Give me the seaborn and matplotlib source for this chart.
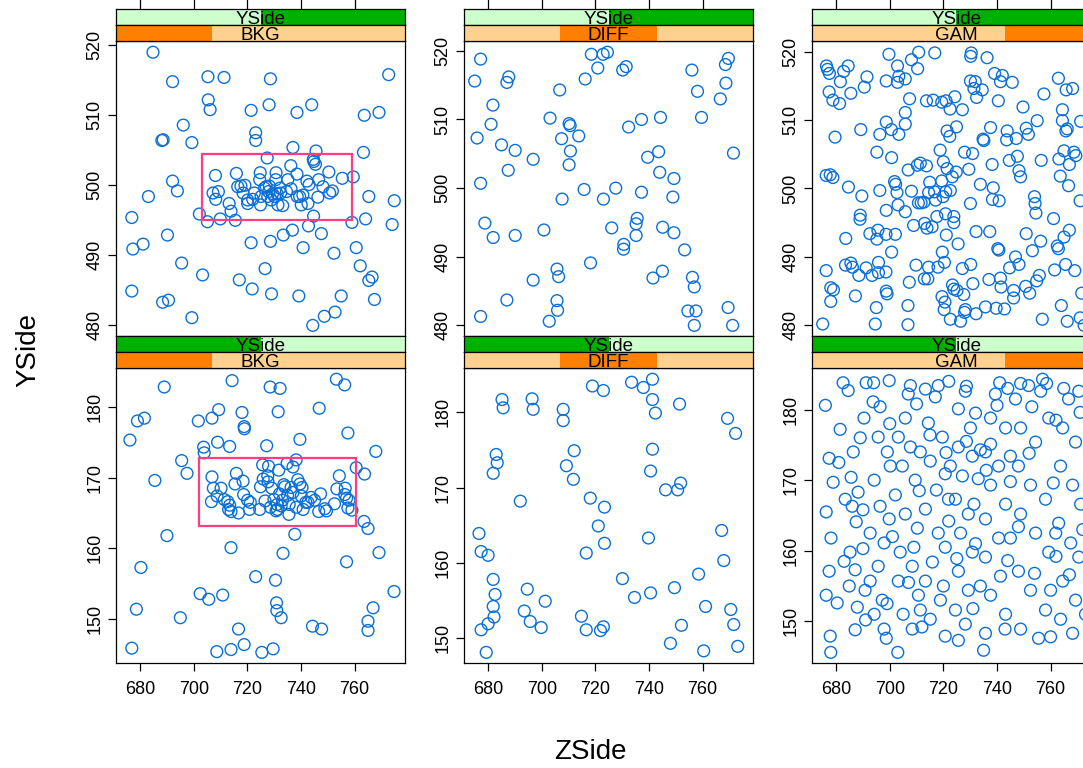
import numpy as np
import pandas as pd
import matplotlib.pyplot as plt
from matplotlib.patches import Rectangle
from matplotlib.ticker import MultipleLocator
import seaborn as sns

sns.set_theme(style='white')
plt.rcParams['font.family'] = ['Liberation Sans', 'DejaVu Sans']
plt.rcParams['text.color'] = 'black'

classes = ['BKG', 'DIFF', 'GAM']
yside_levels = ['low', 'high']

# ---- YSide = high (top row) ----
bkg_hi_x = [684.8, 692.1, 705.3, 711.3, 728.6, 772.7, 705.4, 706.1, 721.4, 728.1, 738.5, 744.0, 763.6, 769.1, 696.1,
            688.1, 688.6, 699.3, 723.1, 723.1, 737.0, 745.6, 763.3, 727.4, 692.1, 693.9, 683.1, 676.9, 690.2, 681.1,
            677.3, 702.1, 705.1, 709.9, 715.5, 713.9, 713.2, 708.1, 707.2, 708.2, 709.2, 715.9, 717.6, 719.1, 720.1,
            720.1, 724.8, 724.6, 725.1, 724.9, 727.0, 727.9, 728.9, 730.1, 730.7, 730.6, 731.4, 733.2, 732.4, 734.6,
            735.1, 736.2, 738.5, 739.5, 740.1, 740.7, 742.2, 743.0, 742.6, 744.8, 745.4, 744.6, 746.6, 746.3, 748.2,
            750.4, 750.7, 751.7, 755.4, 759.5, 744.7, 759.0, 764.1, 765.3, 774.8, 774.0, 736.8, 742.8, 747.6, 733.4,
            728.6, 721.4, 740.8, 752.3, 760.6, 762.1, 766.5, 765.3, 695.5, 703.3, 717.0, 721.8, 726.6, 729.0, 739.2,
            755.0, 767.4, 676.9, 688.4, 690.6, 699.3, 744.4, 748.7, 752.7, 726.4, 728.2, 729.4, 731.1, 727.6, 732.2,
            716.4, 718.4, 722.6, 722.0, 736.3, 738.6]
bkg_hi_y = [519.0, 514.8, 515.5, 515.4, 515.2, 515.8, 512.2, 510.8, 510.7, 511.5, 510.4, 511.5, 510.0, 510.4, 508.6,
            506.4, 506.5, 506.1, 507.5, 506.4, 505.4, 504.9, 504.7, 503.9, 500.6, 499.2, 498.4, 495.4, 492.9, 491.6,
            490.9, 495.9, 494.8, 495.2, 495.0, 496.3, 497.4, 501.4, 498.9, 498.0, 499.1, 501.7, 499.9, 500.0, 497.9,
            497.4, 501.8, 500.8, 498.4, 497.2, 499.8, 499.1, 497.9, 498.4, 501.8, 500.8, 497.2, 497.1, 498.9, 499.1,
            500.8, 502.8, 501.6, 498.4, 497.2, 498.6, 500.6, 500.1, 497.4, 503.4, 503.0, 503.7, 500.8, 498.3, 499.8,
            501.9, 498.9, 499.2, 501.0, 501.2, 495.6, 494.7, 495.2, 498.4, 497.8, 494.4, 493.6, 494.2, 493.1, 492.9,
            492.0, 491.8, 491.1, 490.3, 491.1, 488.5, 486.9, 486.4, 488.9, 487.2, 486.5, 485.2, 488.1, 484.5, 484.2,
            484.2, 483.7, 484.9, 483.3, 483.6, 481.1, 480.0, 481.3, 481.9, 499.6, 499.9, 498.8, 498.8, 498.4, 499.6,
            499.8, 498.9, 498.9, 498.0, 499.5, 498.4]

diff_hi_x = [677.2, 675.0, 687.7, 687.0, 681.8, 681.1, 675.9, 685.0, 690.1, 696.8, 687.5, 677.2, 706.7, 703.1, 710.2,
             710.6, 713.8, 707.4, 710.7, 710.2, 716.2, 718.5, 722.9, 724.5, 720.9, 730.2, 731.5, 737.2, 732.4, 744.3,
             756.0, 758.1, 759.6, 768.5, 769.6, 768.7, 766.6, 771.5, 743.6, 739.5, 744.0, 749.3, 748.9, 737.2, 727.6,
             723.0, 715.8, 707.6, 678.8, 681.9, 690.1, 700.8, 726.1, 735.6, 735.2, 735.2, 730.6, 730.5, 745.1, 749.3,
             753.3, 718.2, 705.7, 706.3, 696.8, 741.5, 745.0, 756.2, 756.9, 687.0, 705.7, 705.9, 702.8, 677.2, 754.5,
             757.5, 769.5, 756.9, 771.2]
diff_hi_y = [518.8, 515.6, 516.2, 515.4, 512.1, 509.3, 507.3, 506.3, 505.5, 504.2, 502.6, 500.7, 514.3, 510.2, 509.4,
             509.1, 507.6, 507.2, 505.4, 503.4, 515.9, 519.5, 519.5, 519.8, 517.5, 517.2, 517.7, 510.0, 508.9, 510.3,
             517.2, 514.1, 510.3, 518.0, 518.9, 515.3, 513.0, 505.1, 505.3, 504.5, 502.3, 501.4, 498.7, 499.4, 500.0,
             498.4, 499.8, 498.4, 494.9, 492.8, 493.1, 493.9, 494.2, 495.6, 494.8, 493.1, 491.8, 491.1, 494.3, 493.5,
             491.0, 489.1, 488.2, 487.1, 486.6, 486.9, 487.9, 487.0, 485.6, 483.7, 483.6, 482.2, 480.6, 481.3, 482.1,
             482.1, 482.6, 480.0, 480.0]

gam_hi_x = [699.7, 710.8, 716.8, 708.1, 730.4, 730.2, 736.3, 676.4, 676.8, 684.5, 682.8, 702.9, 710.4, 677.5, 681.6,
            691.5, 690.5, 698.7, 703.4, 702.9, 705.8, 730.1, 731.9, 739.1, 742.0, 741.3, 745.7, 762.9, 677.4, 678.8,
            681.3, 685.5, 731.4, 734.5, 732.4, 740.5, 757.5, 765.8, 768.2, 707.4, 713.7, 716.2, 719.4, 721.0, 724.3,
            722.5, 727.1, 749.7, 764.4, 705.8, 698.7, 705.8, 689.2, 700.6, 703.4, 696.3, 679.6, 721.4, 722.4, 724.9,
            737.6, 734.8, 735.1, 743.8, 743.6, 747.2, 750.9, 751.7, 755.0, 764.4, 766.2, 765.7, 771.2, 695.2, 700.7,
            718.8, 727.9, 730.9, 720.0, 710.3, 711.4, 713.7, 706.9, 721.4, 724.8, 723.3, 729.5, 738.2, 744.6, 747.6,
            748.2, 748.8, 756.5, 763.1, 765.0, 768.7, 769.4, 767.0, 676.3, 677.8, 678.8, 763.6, 684.6, 689.6, 696.3,
            701.8, 702.2, 702.7, 708.1, 714.9, 714.5, 716.7, 719.4, 720.9, 722.6, 719.9, 717.1, 710.7, 711.7, 712.7,
            703.1, 705.8, 698.7, 730.1, 733.8, 738.6, 738.3, 740.8, 754.0, 754.2, 754.5, 766.7, 771.0, 689.0, 688.9,
            708.9, 713.0, 713.9, 715.8, 717.6, 720.8, 723.9, 723.9, 721.1, 725.5, 732.2, 737.3, 683.6, 692.6, 695.6,
            695.2, 698.6, 702.1, 750.9, 756.3, 761.1, 765.0, 767.0, 762.5, 762.9, 740.3, 740.7, 753.2, 700.7, 719.6,
            720.4, 718.0, 714.5, 709.8, 676.3, 683.5, 685.5, 686.1, 688.5, 691.2, 693.4, 695.8, 695.8, 698.6, 727.1,
            730.2, 731.0, 744.7, 746.9, 748.2, 741.3, 741.5, 737.0, 746.2, 750.7, 752.2, 754.8, 755.8, 761.5, 765.6,
            769.0, 707.3, 712.9, 714.2, 678.0, 679.0, 678.0, 687.2, 698.7, 699.0, 695.0, 706.8, 719.5, 720.6, 720.3,
            723.4, 723.9, 725.1, 727.6, 722.6, 726.4, 727.9, 728.2, 732.2, 735.7, 739.7, 742.8, 746.2, 675.0, 694.6,
            706.8, 756.9, 764.0, 766.2, 771.6, 771.0, 772.5]
gam_hi_y = [519.6, 519.9, 519.8, 518.8, 519.8, 519.3, 519.1, 517.9, 517.4, 517.9, 517.1, 517.9, 517.5, 516.8, 515.6,
            516.3, 514.8, 515.7, 516.4, 515.5, 516.0, 515.7, 515.6, 516.8, 516.5, 515.6, 515.5, 516.1, 514.1, 512.9,
            512.4, 513.9, 514.6, 514.4, 513.3, 512.8, 513.8, 514.4, 514.6, 513.1, 512.8, 512.9, 512.6, 512.8, 513.4,
            511.6, 511.5, 511.9, 511.5, 511.1, 509.7, 509.4, 508.6, 508.6, 507.9, 507.9, 507.5, 508.4, 507.6, 509.0,
            508.9, 507.2, 507.0, 508.4, 507.1, 507.3, 508.8, 507.9, 509.9, 509.9, 508.7, 508.4, 509.8, 505.3, 504.5,
            505.6, 505.3, 505.1, 503.9, 503.4, 503.7, 503.3, 502.7, 502.9, 502.4, 501.7, 502.8, 503.5, 504.1, 504.7,
            502.6, 501.7, 504.1, 504.3, 505.5, 505.3, 504.8, 503.5, 501.9, 502.0, 501.6, 501.8, 500.2, 498.9, 499.7,
            501.0, 500.6, 499.4, 499.6, 500.9, 499.4, 499.5, 501.1, 499.5, 499.7, 498.8, 498.3, 497.9, 497.9, 498.0,
            497.6, 496.6, 496.8, 497.8, 500.6, 500.1, 498.4, 498.2, 498.8, 497.8, 496.4, 500.4, 498.2, 496.1, 495.5,
            494.6, 494.9, 494.2, 494.4, 495.9, 496.3, 495.9, 495.0, 493.2, 491.9, 493.7, 493.7, 492.7, 493.4, 493.9,
            492.6, 493.3, 493.3, 493.4, 492.3, 495.6, 492.9, 493.9, 491.6, 491.2, 491.2, 491.0, 490.9, 490.7, 490.7,
            489.2, 488.5, 488.5, 488.8, 488.0, 488.8, 489.1, 488.5, 487.3, 488.4, 487.3, 489.2, 487.7, 487.8, 488.3,
            488.9, 486.1, 488.4, 490.0, 488.9, 486.9, 485.6, 486.7, 485.1, 485.7, 484.7, 486.5, 487.3, 488.1, 488.9,
            488.0, 486.3, 486.8, 486.8, 485.5, 485.2, 483.5, 484.3, 485.0, 484.6, 482.6, 482.9, 484.2, 483.4, 482.3,
            485.9, 485.3, 485.1, 484.5, 480.9, 480.6, 481.9, 482.3, 481.7, 482.7, 482.5, 482.4, 484.0, 480.2, 480.2,
            480.1, 480.9, 482.9, 480.6, 484.7, 481.1, 480.0]

# ---- YSide = low (bottom row) ----
bkg_lo_x = [689.0, 714.3, 728.5, 732.2, 753.2, 756.3, 679.0, 681.6, 701.7, 706.8, 709.3, 718.0, 731.5, 746.8, 718.8,
            718.9, 676.2, 739.6, 757.5, 703.7, 703.9, 708.9, 713.4, 727.2, 767.9, 695.5, 697.5, 685.5, 760.6, 763.7,
            763.5, 765.0, 737.7, 690.0, 713.9, 733.3, 757.0, 769.1, 680.3, 723.1, 730.5, 702.4, 705.6, 710.8, 678.6,
            695.0, 716.7, 730.9, 731.0, 732.6, 744.3, 747.7, 766.9, 765.0, 765.0, 774.7, 676.9, 708.6, 713.9, 718.8,
            725.4, 729.6,
            725.7, 727.9, 731.7, 734.8, 738.2, 737.0, 706.8, 715.9, 718.4, 715.4, 707.3, 710.2, 725.9, 727.6, 727.7,
            724.9, 729.1, 733.6, 734.0, 738.8, 739.6, 740.4, 754.3, 753.4, 756.5, 756.3, 757.0, 706.6, 708.7, 711.4,
            712.7, 713.4, 713.0, 713.9, 716.7, 718.6, 720.1, 720.8, 721.1, 724.6, 726.6, 728.6, 729.9, 731.2, 732.0,
            733.1, 735.0, 735.6, 735.5, 737.0, 738.2, 740.1, 740.8, 741.8, 743.8, 745.1, 747.3, 746.6, 748.9, 749.5,
            752.5, 757.5, 759.0, 757.9, 731.1, 730.7, 732.6, 736.3, 742.6]
bkg_lo_y = [182.8, 183.7, 182.8, 182.6, 183.9, 183.1, 178.0, 178.4, 178.0, 178.4, 179.6, 179.2, 179.3, 179.8, 177.2,
            176.9, 175.3, 175.4, 176.3, 174.3, 173.5, 175.0, 174.4, 174.5, 173.7, 172.4, 170.6, 169.6, 171.4, 170.5,
            163.8, 162.8, 162.0, 161.8, 160.1, 159.3, 158.1, 159.4, 157.3, 156.0, 155.5, 153.6, 152.8, 153.4, 151.4,
            150.2, 148.6, 152.3, 151.2, 150.2, 149.0, 148.6, 151.6, 149.7, 148.4, 153.9, 145.9, 145.4, 145.7, 146.4,
            145.3, 145.8,
            171.8, 171.6, 171.05, 172.0, 172.5, 171.5, 170.1, 170.6, 169.5, 169.1, 168.5, 168.5, 169.8, 170.25, 169.4,
            168.7, 168.5, 169.0, 168.7, 169.7, 169.1, 168.6, 170.25, 168.4, 168.5, 167.6, 167.1, 166.6, 167.4, 166.9,
            166.6, 166.1, 165.5, 165.2, 165.0, 167.6, 166.8, 165.5, 166.5, 165.5, 166.7, 165.8, 166.9, 165.5, 167.7,
            166.8, 167.5, 166.2, 164.8, 167.9, 165.8, 167.4, 165.5, 166.5, 167.2, 166.8, 167.7, 165.2, 165.6, 165.3,
            166.3, 165.7, 165.4, 166.8, 166.2, 165.3, 166.0, 168.6, 166.5]

diff_lo_x = [685.2, 685.6, 683.0, 683.4, 681.9, 676.6, 677.4, 680.0, 681.9, 682.6, 681.9, 682.2, 680.0, 677.4, 679.3,
             693.5, 694.6, 695.7, 699.8, 701.3, 692.0, 696.4, 696.8, 708.0, 708.0, 718.9, 723.0, 712.1, 709.2, 711.8,
             718.1, 723.4, 721.1, 716.6, 714.8, 716.6, 721.9, 723.4, 730.1, 734.6, 723.0, 733.5, 737.9, 741.3, 741.3,
             742.4, 751.4, 741.3, 740.6, 739.8, 740.6, 746.2, 748.0, 750.7, 751.8, 749.5, 752.1, 758.5, 760.4, 761.1,
             767.9, 770.5, 771.6, 773.1, 767.1, 769.3, 772.3]
diff_lo_y = [181.7, 180.6, 174.4, 173.3, 171.9, 163.9, 161.5, 161.0, 157.8, 155.8, 154.2, 152.8, 151.9, 151.1, 148.1,
             153.6, 156.5, 152.2, 151.4, 154.9, 168.2, 181.8, 180.4, 180.4, 178.9, 183.5, 182.9, 174.9, 172.9, 171.1,
             168.6, 167.4, 164.9, 161.3, 152.9, 151.1, 151.0, 162.6, 157.9, 155.4, 151.5, 184.0, 183.3, 184.4, 181.7,
             179.9, 181.1, 175.1, 172.2, 163.3, 156.0, 169.7, 149.3, 169.7, 170.6, 156.7, 151.7, 158.5, 148.3, 154.2,
             160.3, 153.8, 151.8, 148.9, 164.3, 179.2, 177.2]

gam_lo_x = [682.6, 684.5, 691.2, 699.8, 707.7, 718.1, 728.6, 741.0, 748.8, 751.8, 758.5, 764.9,
            677.4, 678.9, 676.3, 678.1, 677.4, 676.3, 680.4, 677.8,
            686.4, 685.6, 688.2, 686.0, 687.5, 685.2, 687.1, 684.9, 687.9, 687.1,
            693.8, 696.4, 695.7, 699.1, 694.2, 696.4, 692.7, 697.9, 695.7, 692.7, 697.2, 694.2, 697.9, 698.7,
            706.9, 705.8, 703.2, 707.7, 704.7, 709.5, 702.1, 705.8, 710.3, 703.9, 708.4, 703.2, 710.7, 705.0, 708.4,
            713.3, 717.0, 714.4, 719.6, 715.1, 720.7, 717.4, 713.3, 718.1, 720.7, 715.9, 713.3, 718.9, 715.1, 720.7,
            728.2, 725.6, 730.1, 725.6, 730.8, 727.1, 724.5, 729.3, 726.4, 730.8, 725.6, 729.3, 724.5, 728.2, 725.6,
            728.6, 733.8, 737.6,
            739.4, 737.6, 743.2, 735.7, 740.6, 737.6, 743.2, 735.7, 740.6, 735.7, 741.3, 737.6, 743.2, 735.7,
            746.9, 756.3, 748.8, 754.4, 759.3, 748.0, 752.5, 758.1, 748.8, 754.4, 759.3, 748.0, 752.5, 758.1, 748.8,
            755.5,
            766.7, 770.5, 764.5, 769.3, 763.7, 768.2, 771.2, 763.0, 767.5, 770.5, 764.5, 769.3, 763.7, 768.2,
            681.5, 690.4, 700.2, 711.4, 721.9, 731.4, 745.0, 761.9, 690.8, 711.4, 733.8, 760.0, 683.4, 699.8, 722.6,
            745.0,
            681.0, 690.0, 683.0, 691.0, 700.0, 701.0, 699.0, 710.0, 711.0, 709.0, 712.0, 722.0, 721.0, 722.0, 720.0,
            732.0, 733.0, 732.0, 731.0, 744.0, 745.0, 744.0, 743.0, 753.0, 752.0, 754.0, 762.0, 761.0, 762.0, 760.0,
            771.0, 772.0, 773.0, 676.0, 678.0, 703.0, 735.0, 757.0, 689.0, 715.0, 736.0, 725.0, 707.0, 690.0, 748.0,
            767.0, 740.0, 694.0]
gam_lo_y = [183.8, 182.7, 183.8, 184.1, 183.4, 183.4, 183.3, 183.8, 183.7, 183.4, 183.7, 183.0,
            173.1, 169.7, 165.5, 161.8, 157.1, 153.7, 152.6, 147.9,
            174.0, 170.4, 168.3, 166.3, 164.1, 159.8, 157.3, 155.0, 152.0, 148.8,
            181.1, 180.4, 176.1, 174.0, 170.0, 166.3, 162.5, 161.1, 157.8, 155.7, 153.0, 151.0, 148.9, 147.6,
            182.2, 178.8, 176.1, 174.7, 172.0, 170.0, 167.9, 165.2, 163.2, 159.8, 157.8, 155.7, 153.7, 151.0, 148.9,
            182.9, 181.8, 178.1, 176.1, 172.7, 170.9, 168.6, 165.9, 162.5, 160.5, 158.4, 155.7, 153.0, 150.3, 147.9,
            182.6, 180.1, 177.4, 174.7, 173.4, 170.6, 167.3, 165.2, 162.5, 159.8, 157.1, 154.4, 151.6, 149.6, 147.3,
            175.5, 174.3, 175.1,
            182.2, 178.8, 177.4, 174.0, 172.0, 169.3, 166.6, 164.5, 161.8, 159.1, 156.4, 153.7, 151.0, 148.3,
            181.5, 182.6, 177.4, 175.4, 178.8, 172.0, 169.3, 167.3, 165.2, 162.5, 159.8, 157.1, 154.4, 151.6, 148.9,
            147.6,
            181.5, 182.6, 177.4, 175.4, 172.0, 169.3, 166.6, 163.9, 161.1, 159.1, 155.7, 153.0, 150.3, 148.3,
            177.2, 178.8, 172.0, 174.0, 167.3, 166.6, 161.8, 162.5, 154.4, 151.6, 155.0, 154.4, 167.3, 164.5, 172.0,
            173.4,
            172.5, 165.8, 158.5, 150.2, 178.0, 162.0, 152.5, 180.8, 168.5, 160.5, 149.2, 184.0, 173.9, 164.2, 155.0,
            179.5, 170.2, 161.0, 151.8, 183.0, 169.8, 158.6, 148.9, 180.4, 173.8, 156.8, 178.5, 169.6, 159.2, 147.8,
            179.6, 163.0, 151.0, 180.6, 145.6, 145.6, 145.9, 184.3, 176.0, 176.4, 171.4, 158.9, 155.5, 160.3, 163.4,
            156.6, 180.6, 183.8]

# highlighted region drawn on the BKG panels: x0, x1, y0, y1
box_hi = (703.0, 759.0, 495.0, 504.5)
box_lo = (702.0, 760.5, 163.1, 172.8)

panels = {
    ('high', 'BKG'): (bkg_hi_x, bkg_hi_y), ('high', 'DIFF'): (diff_hi_x, diff_hi_y),
    ('high', 'GAM'): (gam_hi_x, gam_hi_y), ('low', 'BKG'): (bkg_lo_x, bkg_lo_y),
    ('low', 'DIFF'): (diff_lo_x, diff_lo_y), ('low', 'GAM'): (gam_lo_x, gam_lo_y),
}
frames = []
for (ys, cl), (xs, yv) in panels.items():
    frames.append(pd.DataFrame({'ZSide': xs, 'Y': yv, 'YSide': ys, 'cls': cl}))
df = pd.concat(frames, ignore_index=True)

BLUE = '#0a6fd6'
GREEN_L, GREEN_D = '#ccffcc', '#00b000'
ORANGE_L, ORANGE_D = '#ffd18f', '#ff8000'
PINK = '#ff3d7f'

W, H = 1083, 768
fig = plt.figure(figsize=(W / 100, H / 100), dpi=100)


def add_ax(left, top, w, h):
    return fig.add_axes([left / W, 1 - (top + h) / H, w / W, h / H])


def pad_lim(v):
    lo, hi = min(v), max(v)
    d = (hi - lo) * 0.04
    return lo - d, hi + d


xlim = pad_lim(df['ZSide'])
col_left = [116, 464, 812]
panel_w, panel_h, strip_h = 289, 295, 16
row_top = {'high': 41.3, 'low': 368.3}


def strip(ax, label, light, dark, i, n):
    ax.set_facecolor(light)
    ax.add_patch(Rectangle((i / n, 0), 1 / n, 1, transform=ax.transAxes, color=dark, lw=0))
    ax.text(0.5, 0.09, label, transform=ax.transAxes, ha='center', va='baseline', fontsize=13.5,
            color='black')
    ax.set_yticks([])
    ax.set_xlim(xlim)
    ax.xaxis.set_major_locator(MultipleLocator(20))
    ax.tick_params(axis='x', bottom=False, top=False, labelbottom=False, labeltop=False)
    for s in ax.spines.values():
        s.set_color('black')
        s.set_linewidth(0.9)


for ys in ['high', 'low']:
    top = row_top[ys]
    for j, cl in enumerate(classes):
        left = col_left[j]
        ax = add_ax(left, top, panel_w, panel_h)
        sub = df[(df['YSide'] == ys) & (df['cls'] == cl)]
        sns.scatterplot(data=sub, x='ZSide', y='Y', ax=ax, s=72, facecolor='none',
                        edgecolor=BLUE, linewidth=1.0, legend=False)
        if cl == 'BKG':
            b = box_hi if ys == 'high' else box_lo
            ax.add_patch(Rectangle((b[0], b[2]), b[1] - b[0], b[3] - b[2], fill=False,
                                   edgecolor=PINK, lw=1.6))
        ax.set_xlim(xlim)
        ax.set_ylim(pad_lim(sub['Y']))
        ax.xaxis.set_major_locator(MultipleLocator(20))
        ax.yaxis.set_major_locator(MultipleLocator(10))
        ax.set_xlabel('')
        ax.set_ylabel('')
        ax.set_facecolor('white')
        for s in ax.spines.values():
            s.set_color('black')
            s.set_linewidth(0.9)
        ax.tick_params(axis='y', left=True, right=False, direction='out', length=6, width=0.9,
                       labelsize=13, pad=3, labelrotation=90, colors='black')
        for lab in ax.get_yticklabels():
            lab.set_va('center')
        if ys == 'low':
            ax.tick_params(axis='x', bottom=True, top=False, direction='out', length=6, width=0.9,
                           labelsize=13, pad=7, colors='black')
        else:
            ax.tick_params(axis='x', bottom=False, top=False, labelbottom=False)

        s1 = add_ax(left, top - 2 * strip_h, panel_w, strip_h)
        strip(s1, 'YSide', GREEN_L, GREEN_D, yside_levels.index(ys), len(yside_levels))
        if ys == 'high':
            s1.tick_params(axis='x', top=True, direction='out', length=8, width=0.9, colors='black')
        s2 = add_ax(left, top - strip_h, panel_w, strip_h)
        strip(s2, cl, ORANGE_L, ORANGE_D, j, len(classes))

fig.text(28 / W, 1 - 350 / H, 'YSide', rotation=90, ha='center', va='center', fontsize=20)
fig.text(590 / W, 1 - 752 / H, 'ZSide', ha='center', va='center', fontsize=20)

fig.savefig('out.png', dpi=100)
